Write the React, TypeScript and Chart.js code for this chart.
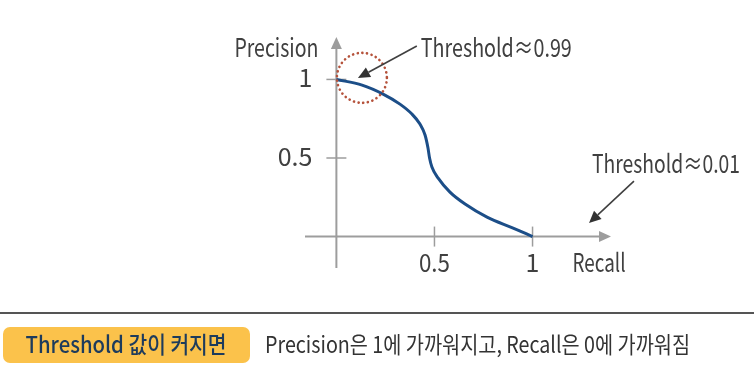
import React, { useEffect, useRef } from "react";
import { Chart, registerables } from "chart.js";

Chart.register(...registerables);

// ---- data ----
const recall = [0, 0.131, 0.238, 0.324, 0.385, 0.426, 0.452, 0.467, 0.475, 0.487, 0.518, 0.579, 0.656, 0.768, 0.901, 1.0];
const precision = [1.0, 0.964, 0.907, 0.843, 0.78, 0.716, 0.646, 0.563, 0.5, 0.443, 0.373, 0.283, 0.207, 0.124, 0.054, 0.0];
const xTickValues = [0.5, 1];
const xTickLabels = ["0.5", "1"];
const yTickValues = [0.5, 1];
const yTickLabels = ["0.5", "1"];
const xAxisTitle = "Recall";
const yAxisTitle = "Precision";
const highThresholdLabel = "Threshold≈0.99";
const lowThresholdLabel = "Threshold≈0.01";
const badgeText = "Threshold 값이 커지면";
const noteText = "Precision은 1에 가까워지고, Recall은 0에 가까워짐";
// annotation anchors in data units
const circleCenter = [0.13, 1.01];
const highArrowFrom = [0.41, 1.213];
const highArrowTo = [0.11, 1.009];
const lowArrowFrom = [1.517, 0.353];
const lowArrowTo = [1.288, 0.086];

const FONT = "'Noto Sans CJK KR', 'Noto Sans', sans-serif";

function drawText(ctx: CanvasRenderingContext2D, text: string, x: number, y: number, align: CanvasTextAlign, maxW: number, font: string, color: string) {
  ctx.font = font;
  ctx.fillStyle = color;
  ctx.textAlign = align;
  ctx.textBaseline = "alphabetic";
  ctx.fillText(text, x, y, maxW);
}

function arrow(ctx: CanvasRenderingContext2D, x1: number, y1: number, x2: number, y2: number) {
  const ang = Math.atan2(y2 - y1, x2 - x1);
  const len = 12;
  const hw = 5.5;
  const bx = x2 - len * Math.cos(ang);
  const by = y2 - len * Math.sin(ang);
  ctx.strokeStyle = "#404040";
  ctx.lineWidth = 1.6;
  ctx.beginPath();
  ctx.moveTo(x1, y1);
  ctx.lineTo(bx, by);
  ctx.stroke();
  ctx.fillStyle = "#333333";
  ctx.beginPath();
  ctx.moveTo(x2, y2);
  ctx.lineTo(bx + hw * Math.sin(ang), by - hw * Math.cos(ang));
  ctx.lineTo(bx - hw * Math.sin(ang), by + hw * Math.cos(ang));
  ctx.closePath();
  ctx.fill();
}

const overlayPlugin = {
  id: "overlay",
  beforeDatasetsDraw(chart: any) {
    const ctx: CanvasRenderingContext2D = chart.ctx;
    const xs = chart.scales.x;
    const ys = chart.scales.y;
    const X = (v: number) => xs.getPixelForValue(v);
    const Y = (v: number) => ys.getPixelForValue(v);
    const ca = chart.chartArea;
    const x0 = X(0);
    const y0 = Y(0);
    ctx.save();
    const grey = "#9d9d9d";
    ctx.strokeStyle = grey;
    ctx.fillStyle = grey;
    ctx.lineWidth = 2;
    ctx.beginPath();
    ctx.moveTo(ca.left, y0);
    ctx.lineTo(ca.right - 8, y0);
    ctx.stroke();
    ctx.beginPath();
    ctx.moveTo(x0, ca.bottom);
    ctx.lineTo(x0, ca.top + 8);
    ctx.stroke();
    ctx.beginPath();
    ctx.moveTo(ca.right, y0);
    ctx.lineTo(ca.right - 12, y0 - 5.5);
    ctx.lineTo(ca.right - 12, y0 + 5.5);
    ctx.closePath();
    ctx.fill();
    ctx.beginPath();
    ctx.moveTo(x0, ca.top);
    ctx.lineTo(x0 - 5.5, ca.top + 12);
    ctx.lineTo(x0 + 5.5, ca.top + 12);
    ctx.closePath();
    ctx.fill();
    ctx.lineWidth = 1.5;
    xTickValues.forEach((v) => {
      ctx.beginPath();
      ctx.moveTo(X(v), y0 - 10);
      ctx.lineTo(X(v), y0 + 10);
      ctx.stroke();
    });
    yTickValues.forEach((v) => {
      ctx.beginPath();
      ctx.moveTo(x0 - 10, Y(v));
      ctx.lineTo(x0 + 10, Y(v));
      ctx.stroke();
    });
    ctx.restore();
  },
  afterDatasetsDraw(chart: any) {
    const ctx: CanvasRenderingContext2D = chart.ctx;
    const xs = chart.scales.x;
    const ys = chart.scales.y;
    const X = (v: number) => xs.getPixelForValue(v);
    const Y = (v: number) => ys.getPixelForValue(v);
    const x0 = X(0);
    const y0 = Y(0);
    const W = chart.width;
    ctx.save();
    const txt = "#404040";
    const f = `400 25px ${FONT}`;
    // tick labels
    yTickValues.forEach((v, i) => drawText(ctx, yTickLabels[i], x0 - 24, Y(v) + 8, "right", 40, f, txt));
    xTickValues.forEach((v, i) => drawText(ctx, xTickLabels[i], X(v), y0 + 35, "center", 31, f, txt));
    drawText(ctx, yAxisTitle, x0 - 18, Y(1) - 22, "right", 84, f, txt);
    drawText(ctx, xAxisTitle, X(1) + 40, y0 + 35, "left", 53, f, txt);
    // dotted circle
    ctx.strokeStyle = "#b5523b";
    ctx.lineWidth = 2.6;
    ctx.lineCap = "round";
    ctx.setLineDash([0.1, 4.6]);
    ctx.beginPath();
    ctx.arc(X(circleCenter[0]), Y(circleCenter[1]), 25, 0, Math.PI * 2);
    ctx.stroke();
    ctx.setLineDash([]);
    ctx.lineCap = "butt";
    // arrows
    arrow(ctx, X(highArrowFrom[0]), Y(highArrowFrom[1]), X(highArrowTo[0]), Y(highArrowTo[1]));
    arrow(ctx, X(lowArrowFrom[0]), Y(lowArrowFrom[1]), X(lowArrowTo[0]), Y(lowArrowTo[1]));
    drawText(ctx, highThresholdLabel, X(highArrowFrom[0]) + 4, Y(1) - 22, "left", 151, f, txt);
    drawText(ctx, lowThresholdLabel, X(lowArrowFrom[0]) - 42, Y(0.5) + 15, "left", 148, f, txt);
    // bottom banner
    ctx.strokeStyle = "#555555";
    ctx.lineWidth = 2;
    ctx.beginPath();
    ctx.moveTo(0, 313);
    ctx.lineTo(W, 313);
    ctx.stroke();
    ctx.fillStyle = "#fbc24b";
    ctx.beginPath();
    (ctx as any).roundRect(3, 327, 247, 36, 7);
    ctx.fill();
    drawText(ctx, badgeText, 126, 353, "center", 201, `500 23px ${FONT}`, "#1d3b5c");
    drawText(ctx, noteText, 265, 353, "left", 425, `400 23px ${FONT}`, "#333333");
    ctx.restore();
  },
};

export default function App() {
  const ref = useRef<HTMLCanvasElement>(null);
  useEffect(() => {
    if (!ref.current) return;
    const chart = new Chart(ref.current, {
      type: "line",
      data: {
        datasets: [
          {
            data: recall.map((r, i) => ({ x: r, y: precision[i] })),
            borderColor: "#1c4e88",
            borderWidth: 3,
            pointRadius: 0,
            fill: false,
            cubicInterpolationMode: "monotone",
          },
        ],
      },
      options: {
        responsive: false,
        animation: false,
        layout: { padding: { left: 305, right: 143, top: 37, bottom: 101 } },
        plugins: { legend: { display: false }, tooltip: { enabled: false }, title: { display: false } },
        scales: {
          x: { type: "linear", min: -0.16, max: 1.4, display: false },
          y: { type: "linear", min: -0.2, max: 1.27, display: false },
        },
      },
      plugins: [overlayPlugin],
    } as any);
    return () => chart.destroy();
  }, []);
  return (
    <div style={{ position: "fixed", left: 0, top: 0, width: 754, height: 369, background: "#ffffff" }}>
      <canvas ref={ref} width={754} height={369} style={{ width: 754, height: 369, display: "block" }} />
    </div>
  );
}
